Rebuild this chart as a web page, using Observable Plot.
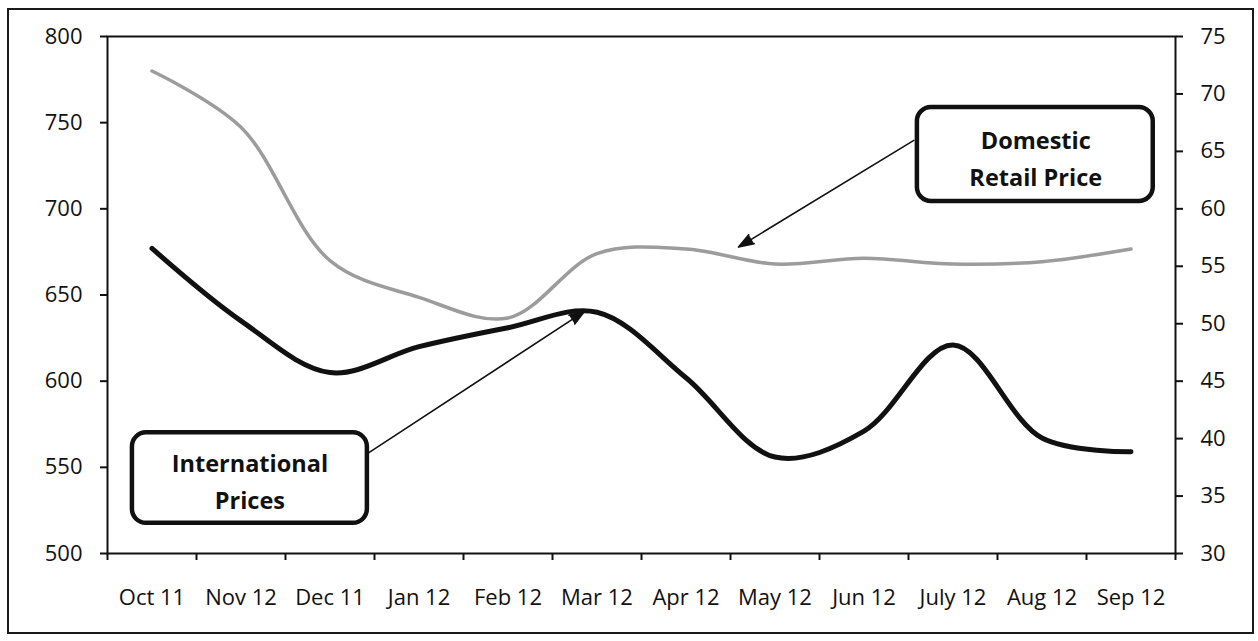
<!DOCTYPE html>
<html>
<head>
<meta charset="utf-8">
<script src="https://cdn.jsdelivr.net/npm/d3@7"></script>
<script src="https://cdn.jsdelivr.net/npm/@observablehq/plot@0.6"></script>
<style>
  html, body { margin: 0; padding: 0; background: #fff; overflow: hidden; }
  #wrap { position: relative; width: 1258px; height: 641px; }
  #border { position: absolute; left: 7px; top: 8px; width: 1243px; height: 622px; border: 2px solid #1a1a1a; pointer-events: none; }
</style>
</head>
<body>
<div id="wrap"><div id="border"></div></div>
<script>
// ---- data ----
const months = ["Oct 11", "Nov 12", "Dec 11", "Jan 12", "Feb 12", "Mar 12", "Apr 12", "May 12", "Jun 12", "July 12", "Aug 12", "Sep 12"];
// International prices (left axis)
const international = [677, 635, 605, 620, 631, 640, 602, 556, 571, 621, 567, 559];
// Domestic retail price (right axis)
const domestic = [72.0, 67.1, 55.5, 52.3, 50.5, 56.1, 56.5, 55.2, 55.7, 55.2, 55.4, 56.5];
const leftTicks = [500, 550, 600, 650, 700, 750, 800];
const rightTicks = [30, 35, 40, 45, 50, 55, 60, 65, 70, 75];
const labelIntl = "International\nPrices";
const labelDom = "Domestic\nRetail Price";

// ---- right-axis mapping onto left scale ----
const L0 = 500, L1 = 800, R0 = 30, R1 = 75;
const toLeft = v => L0 + (v - R0) * (L1 - L0) / (R1 - R0);
const toRight = v => R0 + (v - L0) * (R1 - R0) / (L1 - L0);

const intlData = months.map((m, i) => ({x: i + 0.5, y: international[i]}));
const domData = months.map((m, i) => ({x: i + 0.5, y: toLeft(domestic[i])}));

// annotation geometry (in data units)
const boxes = [
  {x1: 0.28, x2: 2.92, y1: 517.5, y2: 570, tx: 1.6, ty: 543.2, text: labelIntl},
  {x1: 9.10, x2: 11.75, y1: 704.3, y2: 758.8, tx: 10.43, ty: 730.7, text: labelDom}
];
const arrows = [
  {x1: 2.92, y1: 558, x2: 5.36, y2: 640.5},
  {x1: 9.06, y1: 739.7, x2: 7.09, y2: 677.8}
];

const font = "'Open Sans', 'DejaVu Sans', sans-serif";

const plot = Plot.plot({
  width: 1258,
  height: 641,
  marginLeft: 107,
  marginRight: 83,
  marginTop: 36,
  marginBottom: 88,
  style: {fontFamily: font, fontSize: "22px", color: "#111", background: "transparent"},
  x: {domain: [0, 12], axis: null},
  y: {domain: [L0, L1], axis: null},
  marks: [
    Plot.axisY({anchor: "left", ticks: leftTicks, tickSize: 7, tickPadding: 18, strokeWidth: 2, fontSize: 22, tickFormat: d => d}),
    Plot.axisY({anchor: "right", ticks: rightTicks.map(toLeft), tickSize: 7, tickPadding: 18, strokeWidth: 2, fontSize: 22, tickFormat: d => Math.round(toRight(d))}),
    Plot.axisX({anchor: "bottom", ticks: d3.range(13), tickSize: 7, strokeWidth: 2, tickFormat: () => ""}),
    Plot.axisX({anchor: "bottom", ticks: months.map((m, i) => i + 0.5), tickSize: 0, tickPadding: 36, fontSize: 22, tickFormat: t => months[Math.floor(t)]}),
    Plot.frame({stroke: "#111", strokeWidth: 2}),
    Plot.line(domData, {x: "x", y: "y", curve: "catmull-rom", stroke: "#9c9c9c", strokeWidth: 3.5}),
    Plot.line(intlData, {x: "x", y: "y", curve: "catmull-rom", stroke: "#111", strokeWidth: 5}),
    Plot.arrow(arrows, {x1: "x1", y1: "y1", x2: "x2", y2: "y2", stroke: "#111", fill: "#111", strokeWidth: 1.6, headLength: 15, headAngle: 38}),
    Plot.rect(boxes, {x1: "x1", x2: "x2", y1: "y1", y2: "y2", fill: "#fff", stroke: "#111", strokeWidth: 4.5, rx: 14}),
    Plot.text(boxes, {x: "tx", y: "ty", text: "text", fontSize: 23.5, fontWeight: "bold", lineHeight: 1.57, fill: "#111"})
  ]
});
document.getElementById("wrap").appendChild(plot);
</script>
</body>
</html>
